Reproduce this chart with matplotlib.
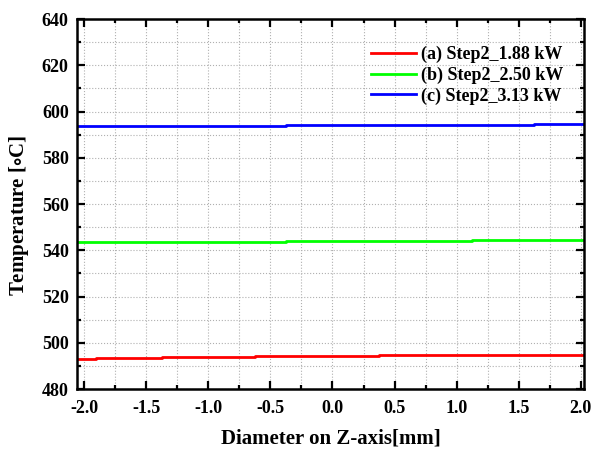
import matplotlib.pyplot as plt
from matplotlib.ticker import MultipleLocator

plt.rcParams['font.family'] = ['Liberation Serif', 'DejaVu Serif']
plt.rcParams['font.weight'] = 'bold'
plt.rcParams['mathtext.fontset'] = 'stix'

# diameter positions [mm]
x = [-2.06, -1.75, -1.5, -1.25, -1.0, -0.75, -0.5, -0.25, 0.0,
     0.25, 0.5, 0.75, 1.0, 1.25, 1.5, 1.75, 2.03]
# temperatures [C]
t_188 = [493.0, 493.3, 493.6, 493.8, 494.0, 494.1, 494.2, 494.3, 494.4,
         494.5, 494.6, 494.7, 494.7, 494.8, 494.8, 494.9, 494.9]
t_250 = [543.4, 543.4, 543.5, 543.6, 543.7, 543.8, 543.8, 543.9, 543.9,
         544.0, 544.0, 544.1, 544.2, 544.3, 544.3, 544.4, 544.6]
t_313 = [593.8, 593.8, 593.8, 593.8, 593.9, 593.9, 593.9, 594.0, 594.0,
         594.1, 594.1, 594.2, 594.3, 594.4, 594.4, 594.5, 594.7]

labels = ['(a) Step2_1.88 kW', '(b) Step2_2.50 kW', '(c) Step2_3.13 kW']
colors = ['#ff0000', '#00ff00', '#0000ff']

fig = plt.figure(figsize=(5.92, 4.53), dpi=100)
ax = fig.add_axes([0.130, 0.141, 0.857, 0.817])

for y, lab, c in zip([t_188, t_250, t_313], labels, colors):
    ax.plot(x, y, color=c, lw=2.0, label=lab, drawstyle='steps-mid')

ax.set_xlim(-2.06, 2.03)
ax.set_ylim(480, 640)
ax.xaxis.set_major_locator(MultipleLocator(0.5))
ax.xaxis.set_minor_locator(MultipleLocator(0.25))
ax.yaxis.set_major_locator(MultipleLocator(20))
ax.yaxis.set_minor_locator(MultipleLocator(10))
ax.xaxis.set_major_formatter(plt.FormatStrFormatter('%.1f'))

ax.grid(True, which='both', color='#b0b0b0', ls=':', lw=0.8)
ax.tick_params(which='both', direction='in', top=True, right=True,
               labelsize=13, width=1.6)
ax.tick_params(which='major', length=6)
ax.tick_params(which='minor', length=3)
ax.tick_params(axis='x', pad=8)
ax.tick_params(axis='y', pad=6)
for s in ax.spines.values():
    s.set_linewidth(1.8)

ax.set_xlabel('Diameter on Z-axis[mm]', fontsize=15, fontweight='bold', labelpad=8)
ax.set_ylabel(r'Temperature [$\circ$C]', fontsize=15, fontweight='bold', labelpad=8, y=0.47)

ax.legend(loc='upper right', bbox_to_anchor=(1.0, 0.984), frameon=False,
          handlelength=2.5, handletextpad=0.3, labelspacing=0.2,
          borderaxespad=0.75, prop={'weight': 'bold', 'size': 13})

fig.savefig('out.png', dpi=100)
